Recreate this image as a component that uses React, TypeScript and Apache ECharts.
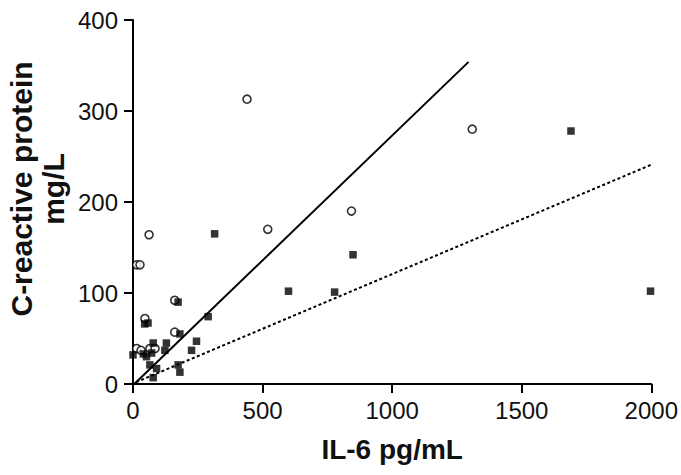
import React, { useEffect, useRef } from "react";
import * as echarts from "echarts";

// IL-6 (pg/mL) vs CRP (mg/L)
const openCircles: [number, number][] = [
  [14, 131], [27, 131], [62, 164], [161, 92], [46, 72], [161, 57],
  [14, 39], [31, 37], [65, 39], [85, 39], [440, 313], [520, 170],
  [843, 190], [1309, 280],
];

const filledSquares: [number, number][] = [
  [0, 32], [40, 33], [52, 30], [72, 34], [78, 45], [129, 45], [123, 37],
  [65, 21], [91, 17], [174, 21], [181, 13], [78, 7], [58, 67], [45, 66],
  [174, 90], [181, 55], [290, 74], [245, 47], [226, 37], [315, 165],
  [600, 102], [778, 101], [849, 142], [1690, 278], [1997, 102],
];

const solidLine: [number, number][] = [[5, 0], [1295, 354]];
const dottedLine: [number, number][] = [[12, 2], [2000, 241]];

const xTicks = { min: 0, max: 2000, interval: 500 };
const yTicks = { min: 0, max: 400, interval: 100 };

const xName = "IL-6 pg/mL";
const yName = "C-reactive protein\nmg/L";

export default function App() {
  const ref = useRef<HTMLDivElement>(null);
  useEffect(() => {
    if (!ref.current) return;
    const chart = echarts.init(ref.current, null, { renderer: "svg" });
    const axisCommon = {
      axisLine: { show: true, lineStyle: { color: "#000", width: 2 } },
      axisTick: { show: true, inside: false, length: 9, lineStyle: { color: "#000", width: 2 } },
      splitLine: { show: false },
      axisLabel: {
        color: "#111",
        fontSize: 24,
        fontFamily: "Liberation Sans, Arial, sans-serif",
        formatter: (v: number) => String(v),
      },
    };
    chart.setOption({
      animation: false,
      backgroundColor: "#ffffff",
      grid: { left: 133, right: 28, top: 20, bottom: 91, containLabel: false },
      xAxis: {
        type: "value",
        ...xTicks,
        ...axisCommon,
        axisLabel: { ...axisCommon.axisLabel, margin: 14 },
        name: xName,
        nameLocation: "middle",
        nameGap: 51,
        nameTextStyle: {
          color: "#111",
          fontSize: 28,
          fontWeight: "bold",
          fontFamily: "Liberation Sans, Arial, sans-serif",
        },
      },
      yAxis: {
        type: "value",
        ...yTicks,
        ...axisCommon,
        axisLabel: { ...axisCommon.axisLabel, margin: 15 },
      },
      graphic: [
        {
          type: "text",
          x: 37,
          y: 189,
          rotation: Math.PI / 2,
          style: {
            text: yName,
            fill: "#111",
            font: "bold 30px 'Liberation Sans', Arial, sans-serif",
            lineHeight: 32,
            align: "center",
            verticalAlign: "middle",
          },
        },
      ],
      series: [
        {
          type: "line",
          data: solidLine,
          showSymbol: false,
          symbol: "none",
          lineStyle: { color: "#000", width: 2 },
          z: 1,
        },
        {
          type: "line",
          data: dottedLine,
          showSymbol: false,
          symbol: "none",
          lineStyle: { color: "#000", width: 2, type: [3, 2.5] },
          z: 1,
        },
        {
          type: "scatter",
          data: openCircles,
          symbol: "circle",
          symbolSize: 8,
          itemStyle: { color: "#ffffff", borderColor: "#000", borderWidth: 1.6 },
          z: 2,
        },
        {
          type: "scatter",
          data: filledSquares,
          symbol: "rect",
          symbolSize: 7.5,
          itemStyle: { color: "#000" },
          z: 3,
        },
      ],
    });
    return () => chart.dispose();
  }, []);
  return (
    <div
      ref={ref}
      style={{ position: "fixed", left: 0, top: 0, width: 681, height: 475, background: "#fff" }}
    />
  );
}
